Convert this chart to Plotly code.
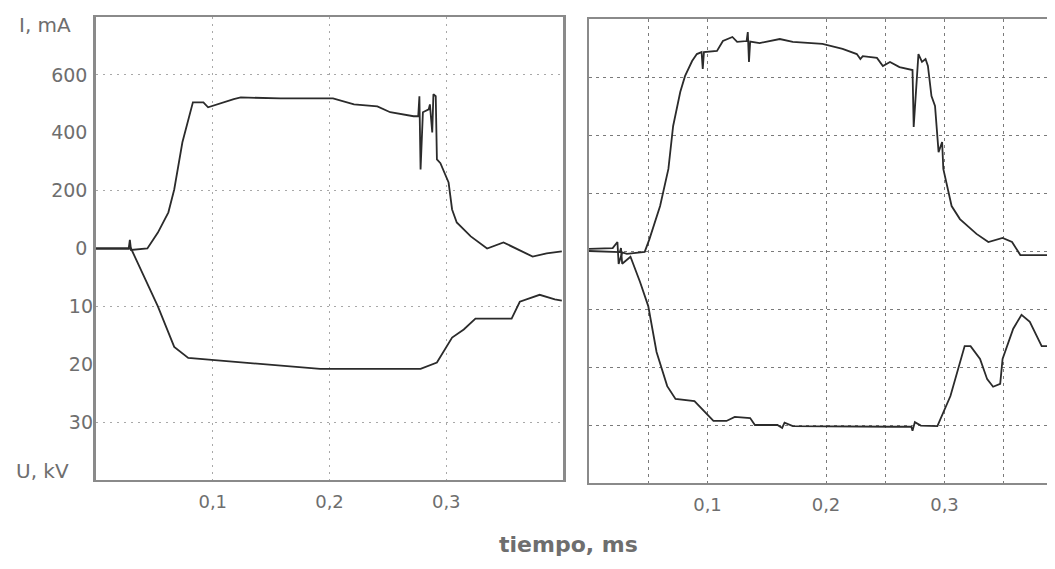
import plotly.graph_objects as go

# ---------------- data (time in ms, current in mA, voltage in kV) ----------------
t_left_i = [0.0, 0.028, 0.029, 0.030, 0.044, 0.053, 0.062, 0.067, 0.074, 0.083, 0.092, 0.096,
            0.118, 0.124, 0.158, 0.203, 0.221, 0.241, 0.252, 0.272, 0.276, 0.277, 0.278, 0.280,
            0.285, 0.286, 0.288, 0.289, 0.291, 0.292, 0.295, 0.302, 0.305, 0.309, 0.321, 0.335,
            0.349, 0.374, 0.386, 0.399]
i_left = [0, 0, 30, -5, 0, 55, 125, 204, 367, 505, 505, 488,
          516, 522, 519, 519, 498, 491, 471, 457, 457, 526, 273, 471,
          481, 498, 401, 533, 526, 308, 295, 228, 135, 90, 42, 0,
          21, -28, -17, -10]

t_left_u = [0.0, 0.030, 0.053, 0.067, 0.079, 0.096, 0.135, 0.164, 0.192, 0.278, 0.292,
            0.305, 0.315, 0.325, 0.356, 0.363, 0.380, 0.393, 0.399]
u_left = [0, 0, 10.0, 17.0, 18.9, 19.2, 19.9, 20.4, 20.8, 20.8, 19.7,
          15.4, 14.0, 12.1, 12.1, 9.2, 8.0, 8.8, 9.0]

t_right_i = [0.0, 0.020, 0.024, 0.025, 0.028, 0.032, 0.047, 0.051, 0.060, 0.067, 0.071, 0.077,
             0.081, 0.087, 0.091, 0.095, 0.096, 0.097, 0.108, 0.113, 0.121, 0.125, 0.133, 0.134,
             0.135, 0.136, 0.144, 0.161, 0.172, 0.197, 0.214, 0.226, 0.229, 0.231, 0.243, 0.248,
             0.254, 0.262, 0.273, 0.274, 0.278, 0.281, 0.284, 0.286, 0.289, 0.292, 0.295, 0.298,
             0.299, 0.306, 0.313, 0.327, 0.337, 0.349, 0.357, 0.364, 0.393]
i_right = [7, 10, 31, -45, -5, -10, -3, 41, 155, 283, 431, 548,
           603, 655, 679, 686, 628, 686, 690, 724, 738, 721, 724, 755,
           652, 722, 717, 731, 721, 714, 697, 679, 662, 672, 666, 638,
           652, 634, 624, 428, 679, 652, 662, 638, 534, 500, 341, 376,
           283, 155, 110, 59, 31, 45, 31, -14, -14]

t_right_u = [0.0, 0.026, 0.027, 0.028, 0.035, 0.043, 0.050, 0.057, 0.066, 0.073, 0.089, 0.105,
             0.116, 0.123, 0.136, 0.140, 0.159, 0.163, 0.165, 0.172, 0.257, 0.272, 0.273, 0.275,
             0.280, 0.294, 0.305, 0.311, 0.317, 0.322, 0.330, 0.336, 0.341, 0.347, 0.349, 0.358,
             0.365, 0.372, 0.382, 0.393]
u_right = [0, 0.2, -0.5, 2.2, 1.0, 5.3, 9.5, 17.4, 23.3, 25.5, 25.9, 29.3,
           29.3, 28.6, 28.8, 30.0, 30.0, 30.5, 29.6, 30.2, 30.3, 30.3, 31.0, 29.5,
           30.1, 30.2, 25.0, 20.9, 16.4, 16.4, 18.6, 22.1, 23.4, 22.9, 18.6, 13.4,
           11.0, 12.2, 16.4, 16.4]

i_ticks = [0, 200, 400, 600]
i_ticktext = ["0", "200", "400", "600"]
u_ticks = [10, 20, 30]
u_ticktext = ["10", "20", "30"]
t_ticks = [0.1, 0.2, 0.3]
t_ticktext = ["0,1", "0,2", "0,3"]

# ---------------- style ----------------
OFF = 8                      # page body margin on every side
W, H = 1055 - 2 * OFF, 569 - 2 * OFF
TXT = "#6e6e6e"
FRAME = "#8a8a8a"
TRACE = "#2b2b2b"
FONT = "DejaVu Sans"

def px_x(a, b):
    return [(a - OFF) / W, min(1.0, (b - OFF) / W)]

def px_y(top, bottom):
    return [1 - (bottom - OFF) / H, 1 - (top - OFF) / H]

def pxp(x, y):
    return (x - OFF) / W, 1 - (y - OFF) / H

# right panel is cut by the page edge: visible time range ends where the figure ends
r_left_px, r_scale = 589, 1185.0      # pixel of t=0 and pixels per ms in the right panel
r_end = (OFF + W - r_left_px) / r_scale

fig = go.Figure()
line = dict(color=TRACE, width=1.8)
fig.add_trace(go.Scatter(x=t_left_i, y=i_left, mode="lines", line=line, xaxis="x", yaxis="y"))
fig.add_trace(go.Scatter(x=t_left_u, y=u_left, mode="lines", line=line, xaxis="x", yaxis="y2"))
fig.add_trace(go.Scatter(x=t_right_i, y=i_right, mode="lines", line=line, xaxis="x2", yaxis="y3"))
fig.add_trace(go.Scatter(x=t_right_u, y=u_right, mode="lines", line=line, xaxis="x2", yaxis="y4"))

tickfont = dict(family=FONT, size=18, color=TXT)
lgrid = dict(gridcolor="#a8a8a8", griddash="2px,5px", gridwidth=1)
rgrid = dict(gridcolor="#7a7a7a", griddash="3px,4px", gridwidth=1.3)

a1 = pxp(45, 25)
a2 = pxp(42, 471)
a3 = pxp(568, 544)

fig.update_layout(
    width=W, height=H,
    margin=dict(l=0, r=0, t=0, b=0),
    paper_bgcolor="white", plot_bgcolor="white",
    showlegend=False,
    xaxis=dict(domain=px_x(96, 563), range=[0, 0.4], anchor="y",
               tickvals=t_ticks, ticktext=t_ticktext, tickfont=tickfont,
               showgrid=True, **lgrid, zeroline=False,
               showline=True, linecolor=FRAME, linewidth=2, mirror=True,
               ticks="", ticklabelstandoff=4, automargin=False),
    yaxis=dict(domain=px_y(17, 480), range=[-800, 800], anchor="x",
               tickvals=i_ticks, ticktext=i_ticktext,
               tickfont=dict(family=FONT, size=19, color=TXT),
               showgrid=False, zeroline=False,
               minor=dict(tickvals=[200, 600], showgrid=True, **lgrid),
               showline=True, linecolor=FRAME, linewidth=2.5, mirror=True,
               ticks="", ticklabelstandoff=2, automargin=False),
    yaxis2=dict(overlaying="y", range=[40, -40], anchor="x", side="left",
                tickvals=u_ticks, ticktext=u_ticktext,
                tickfont=dict(family=FONT, size=19, color=TXT),
                showgrid=False, zeroline=False,
                minor=dict(tickvals=[10, 30], showgrid=True, **lgrid),
                showline=False, ticks="", ticklabelstandoff=2, automargin=False),
    xaxis2=dict(domain=px_x(r_left_px, 1055), range=[0, r_end], anchor="y3",
                tickvals=t_ticks, ticktext=t_ticktext, tickfont=tickfont,
                showgrid=False, zeroline=False,
                minor=dict(tickvals=[0.05, 0.1, 0.2, 0.25, 0.3, 0.35], showgrid=True, **rgrid),
                showline=True, linecolor=FRAME, linewidth=2, mirror=True,
                ticks="", ticklabelstandoff=4, automargin=False),
    yaxis3=dict(domain=px_y(19, 483), range=[-800, 800], anchor="x2",
                tickvals=i_ticks, showticklabels=False,
                showgrid=True, **rgrid, zeroline=False,
                showline=True, linecolor=FRAME, linewidth=2, mirror=False,
                ticks="", automargin=False),
    yaxis4=dict(overlaying="y3", range=[40, -40], anchor="x2",
                tickvals=u_ticks, showticklabels=False,
                showgrid=True, **rgrid, zeroline=False,
                showline=False, ticks="", automargin=False),
    annotations=[
        dict(text="I, mA", x=a1[0], y=a1[1], xref="paper", yref="paper",
             xanchor="center", yanchor="middle",
             showarrow=False, font=dict(family=FONT, size=20, color=TXT)),
        dict(text="U, kV", x=a2[0], y=a2[1], xref="paper", yref="paper",
             xanchor="center", yanchor="middle",
             showarrow=False, font=dict(family=FONT, size=20, color=TXT)),
        dict(text="<b>tiempo, ms</b>", x=a3[0], y=a3[1], xref="paper", yref="paper",
             xanchor="center", yanchor="middle",
             showarrow=False, font=dict(family=FONT, size=22, color=TXT)),
    ],
)

fig.write_html("out.html")
